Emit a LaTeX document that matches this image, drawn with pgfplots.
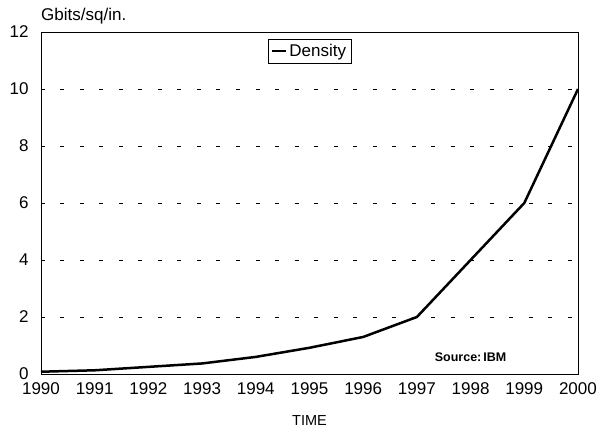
\documentclass[border=0pt]{standalone}
\usepackage{fontspec}
\setmainfont{Liberation Sans}
\usepackage{pgfplots}
\pgfplotsset{compat=1.18}
\begin{document}
\begin{tikzpicture}
\begin{axis}[
  scale only axis,
  width=537pt, height=342pt,
  xmin=1990, xmax=2000, ymin=0, ymax=12,
  xtick={1990,...,2000},
  ytick={0,2,...,12},
  xticklabel style={/pgf/number format/1000 sep={}},
  /pgf/number format/assume math mode=true,
  tick label style={font=\fontsize{17}{20}\selectfont},
  major tick length=0pt,
  ymajorgrids,
  grid style={black, line width=0.6pt, dash pattern=on 4pt off 15.5pt},
  axis line style={line width=0.8pt},
  xticklabel style={yshift=-5pt},
  yticklabel style={xshift=-9pt},
  xlabel={TIME},
  xlabel style={font=\fontsize{14.5}{17}\selectfont, yshift=-14pt},
  legend style={at={(0.5,0.98)}, anchor=north, draw=black, line width=0.6pt,
    font=\fontsize{17}{20}\selectfont, inner sep=3pt, row sep=0pt},
  legend cell align=left,
  legend image code/.code={\draw[line width=2.5pt] (0pt,0pt) -- (14pt,0pt);},
]
\addplot[black, line width=2.5pt, line join=miter] coordinates {
(1990,0.08) (1991,0.13) (1992,0.25) (1993,0.37) (1994,0.6) (1995,0.92) (1996,1.3) (1997,2) (1998,4) (1999,6) (2000,10)
};
\addlegendentry{Density}
\node[anchor=center, font=\bfseries\fontsize{12.5}{15}\selectfont] at (axis cs:1998.0,0.6) {Source:\,IBM};
\end{axis}
\node[anchor=base west, font=\fontsize{17}{20}\selectfont, inner sep=0pt] at ([yshift=11pt]current axis.north west) {Gbits/sq/in.};
\path[use as bounding box] ([xshift=-41pt,yshift=-60pt]current axis.south west) rectangle ([xshift=28pt,yshift=32pt]current axis.north east);
\end{tikzpicture}
\end{document}
